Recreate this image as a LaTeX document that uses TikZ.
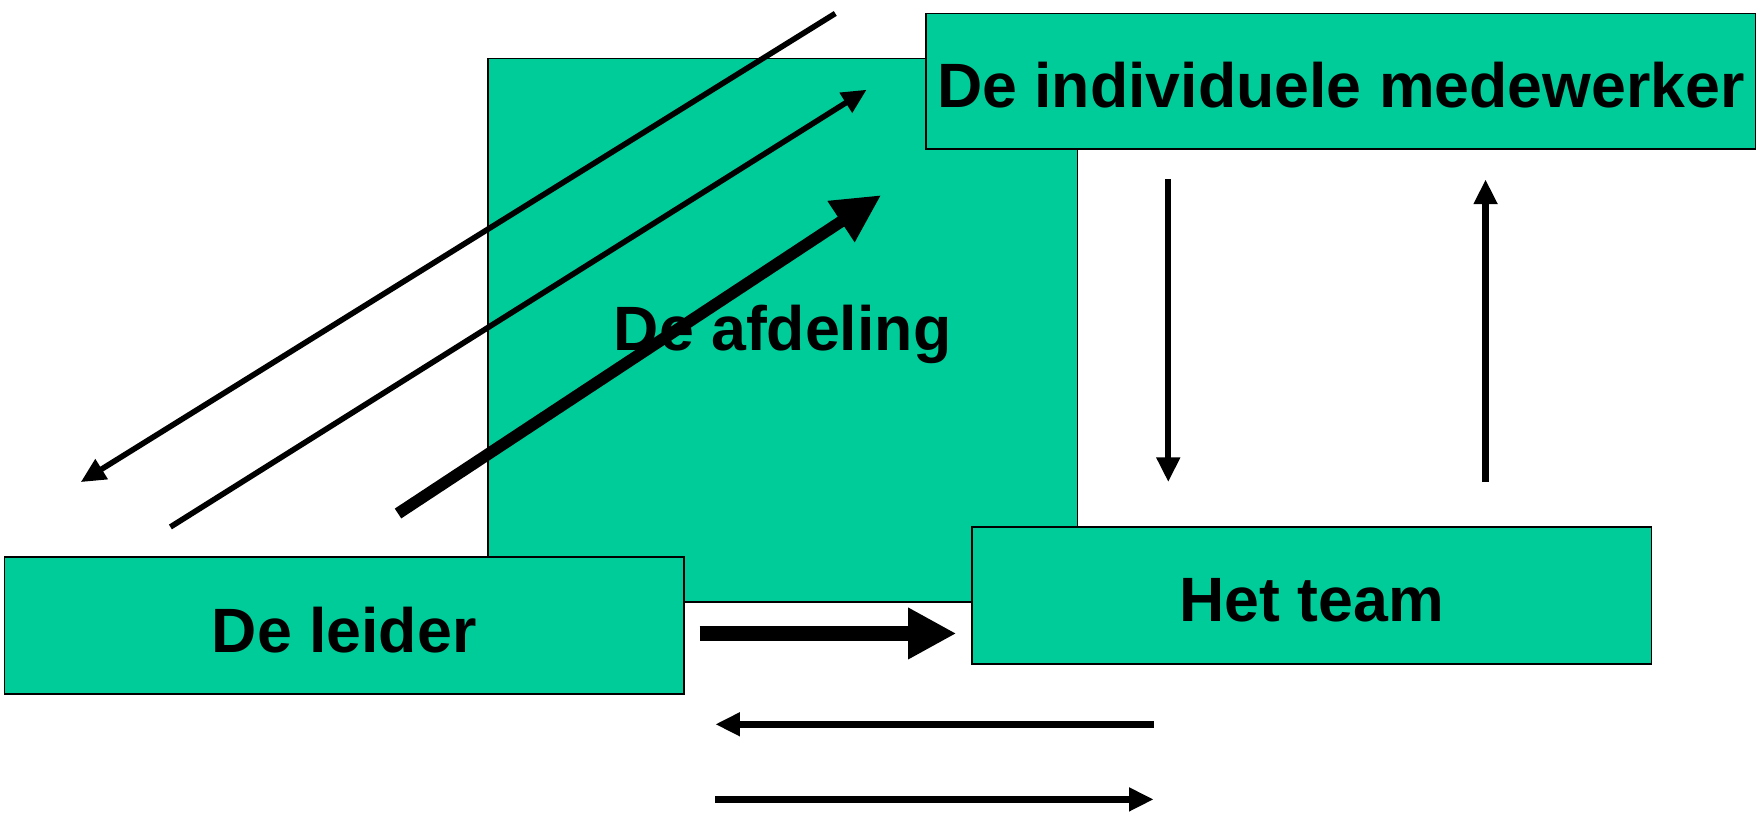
\documentclass[tikz,border=0pt]{standalone}
\usepackage{fontspec}
\setmainfont{Liberation Sans}
\usetikzlibrary{arrows.meta}
\definecolor{boxgreen}{RGB}{0,204,153}
\begin{document}
\begin{tikzpicture}[x=0.02cm,y=-0.02cm,
  box/.style={draw=black,line width=0.8pt,fill=boxgreen,rectangle,inner sep=0pt,
    font=\fontsize{31.8}{38}\selectfont\bfseries,text height=26.8pt,text depth=0pt},
  thinarrow/.style={line width=0.1cm,-{Triangle[length=0.44cm,width=0.4cm]}},
  thickarrow/.style={line width=0.21cm,-{Triangle[length=0.86cm,width=0.82cm]}},
  fatarrow/.style={line width=0.27cm,-{Triangle[length=0.86cm,width=0.86cm]}}]
\useasboundingbox[fill=white] (0,0) rectangle (1568,727);
% boxes
\node[box,minimum width=10.52cm,minimum height=9.7cm,text height=21pt] (afd) at (698,294.5) {De afdeling};
\node[box,minimum width=14.8cm,minimum height=2.42cm] (ind) at (1196,72.5) {De individuele medewerker};
\node[box,minimum width=12.12cm,minimum height=2.44cm] (lei) at (307,558) {De leider};
\node[box,minimum width=12.12cm,minimum height=2.44cm] (team) at (1170,531) {Het team};
% arrow end points
\coordinate (a1s) at (745,12);
\coordinate (a1e) at (72,430);
\coordinate (a2s) at (152,470);
\coordinate (a2e) at (773,80);
\coordinate (a3s) at (355,458);
\coordinate (a3e) at (786,174);
\coordinate (v1s) at (1042,160);
\coordinate (v1e) at (1042,430);
\coordinate (v2s) at (1325,430);
\coordinate (v2e) at (1325,160);
\coordinate (h1s) at (624,565);
\coordinate (h1e) at (853,565);
\coordinate (h2s) at (1029,646);
\coordinate (h2e) at (638,646);
\coordinate (h3s) at (638,713);
\coordinate (h3e) at (1029,713);
% arrows
\draw[thinarrow] (a1s) -- (a1e);
\draw[thinarrow] (a2s) -- (a2e);
\draw[thickarrow] (a3s) -- (a3e);
\draw[thinarrow,line width=0.11cm] (v1s) -- (v1e);
\draw[thinarrow,line width=0.11cm] (v2s) -- (v2e);
\draw[fatarrow] (h1s) -- (h1e);
\draw[thinarrow,line width=0.12cm] (h2s) -- (h2e);
\draw[thinarrow,line width=0.12cm] (h3s) -- (h3e);
\end{tikzpicture}
\end{document}
